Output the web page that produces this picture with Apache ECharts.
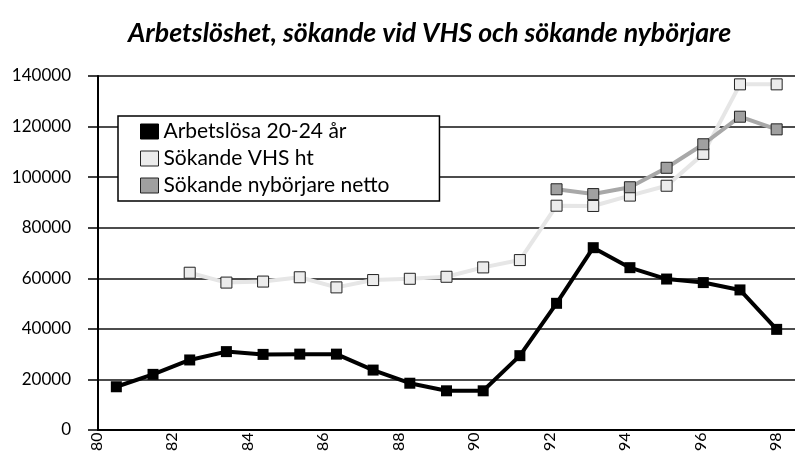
<!DOCTYPE html>
<html lang="sv">
<head>
    <meta charset="utf-8">
    <title>Arbetslöshet</title>
    <script src="https://cdn.jsdelivr.net/npm/echarts@6/dist/echarts.min.js"></script>
    <style>
        html, body { margin: 0; padding: 0; background: #fff; }
        #main { width: 795px; height: 454px; }
    </style>
</head>
<body>
<div id="main"></div>
<script type="text/javascript">
    // år 80-98
    var years = ['80','81','82','83','84','85','86','87','88','89','90','91','92','93','94','95','96','97','98'];
    var arbetslosa = [17100, 22000, 27700, 31000, 29900, 30000, 30000, 23700, 18500, 15500, 15500, 29400, 50100, 72100, 64200, 59700, 58300, 55400, 39800];
    var sokandeVHS = [null, null, 62200, 58300, 58700, 60400, 56400, 59300, 59800, 60600, 64300, 67200, 88700, 88600, 92700, 96600, 109200, 136700, 136700];
    var nyborjare = [null, null, null, null, null, null, null, null, null, null, null, null, 95200, 93300, 96000, 103700, 113000, 123900, 118900];
    var names = ['Arbetslösa 20-24 år', 'Sökande VHS ht', 'Sökande nybörjare netto'];

    var font = 'Lato, "DejaVu Sans", sans-serif';
    var myChart = echarts.init(document.getElementById('main'));

    var option = {
        backgroundColor: '#fff',
        animation: false,
        title: {
            text: 'Arbetslöshet, sökande vid VHS och sökande nybörjare',
            left: 123,
            top: 15,
            textStyle: {
                fontFamily: font,
                fontSize: 26.7,
                fontWeight: 'bold',
                fontStyle: 'italic',
                color: '#000'
            }
        },
        legend: {
            orient: 'vertical',
            left: 118,
            top: 116,
            padding: [5, 50, 5, 22],
            backgroundColor: '#fff',
            borderColor: '#000',
            borderWidth: 1.5,
            borderRadius: 0,
            itemWidth: 18,
            itemHeight: 15,
            itemGap: 6,
            textStyle: { fontFamily: font, fontSize: 21, color: '#000' },
            data: [
                {name: names[0], icon: 'rect', itemStyle: {color: '#000', borderColor: '#000', borderWidth: 1}},
                {name: names[1], icon: 'rect', itemStyle: {color: '#ececec', borderColor: '#222', borderWidth: 1}},
                {name: names[2], icon: 'rect', itemStyle: {color: '#a0a0a0', borderColor: '#222', borderWidth: 1}}
            ]
        },
        grid: [
            { left: 98, right: 0, top: 76, bottom: 24 },
            // only for the year labels, which sit a bit left of the points
            { left: 78, right: 0, top: 76, bottom: 24 }
        ],
        xAxis: [
            {
                type: 'category',
                data: years,
                boundaryGap: true,
                axisLine: { lineStyle: { color: '#000', width: 2 } },
                axisTick: { inside: true, length: 7, interval: 0, lineStyle: { color: '#000', width: 1.5 } },
                axisLabel: { show: false }
            },
            {
                type: 'category',
                gridIndex: 1,
                data: years,
                boundaryGap: true,
                axisLine: { show: false },
                axisTick: { show: false },
                axisLabel: {
                    interval: 1,
                    rotate: 90,
                    margin: 6,
                    fontFamily: font,
                    fontSize: 16,
                    color: '#000'
                }
            }
        ],
        yAxis: [
            {
                type: 'value',
                min: 0,
                max: 140000,
                interval: 20000,
                axisLine: { show: true, lineStyle: { color: '#000', width: 2 } },
                axisTick: { show: true, length: 10, lineStyle: { color: '#000', width: 1.5 } },
                splitLine: { lineStyle: { color: '#111', width: 1.5 } },
                axisLabel: {
                    margin: 27,
                    fontFamily: font,
                    fontSize: 17,
                    color: '#000',
                    formatter: function (v) { return String(v); }
                }
            },
            {
                type: 'value',
                gridIndex: 1,
                min: 0,
                max: 140000,
                show: false
            }
        ],
        series: [
            {
                name: names[1],
                type: 'line',
                data: sokandeVHS,
                symbol: 'rect',
                symbolSize: 11,
                lineStyle: { color: '#e6e6e6', width: 4 },
                itemStyle: { color: '#ececec', borderColor: '#222', borderWidth: 1 }
            },
            {
                name: names[2],
                type: 'line',
                data: nyborjare,
                symbol: 'rect',
                symbolSize: 11,
                lineStyle: { color: '#a8a8a8', width: 4 },
                itemStyle: { color: '#a0a0a0', borderColor: '#222', borderWidth: 1 }
            },
            {
                name: names[0],
                type: 'line',
                data: arbetslosa,
                symbol: 'rect',
                symbolSize: 11,
                lineStyle: { color: '#000', width: 4 },
                itemStyle: { color: '#000' }
            }
        ]
    };

    myChart.setOption(option);
</script>
</body>
</html>
